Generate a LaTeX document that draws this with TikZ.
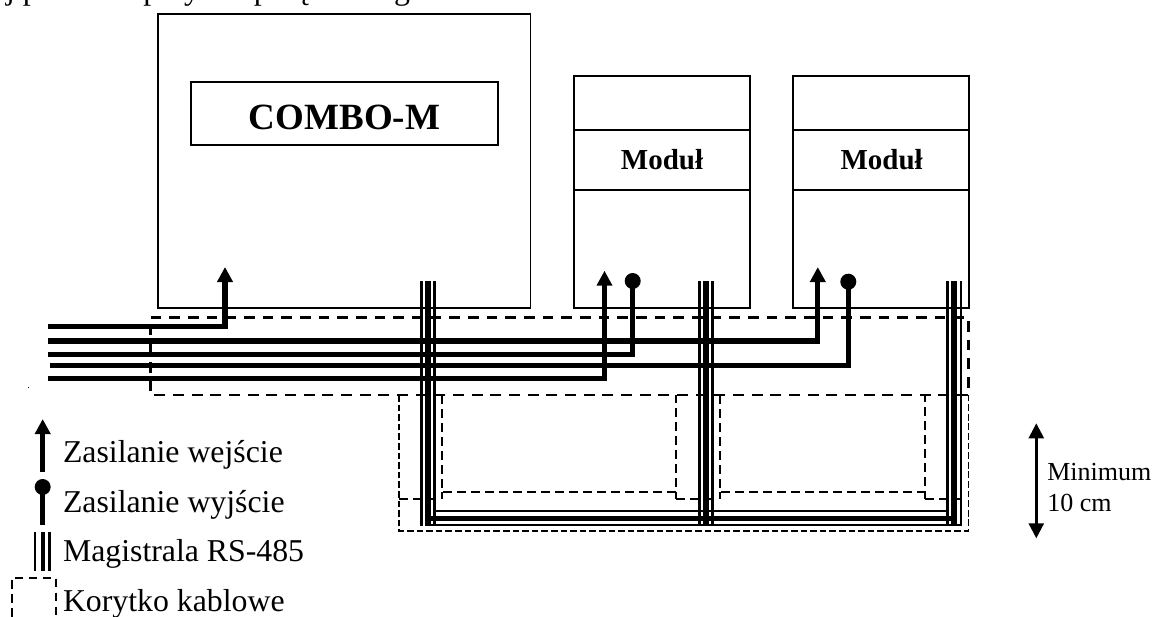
\documentclass[tikz,border=0pt]{standalone}
\usepackage{fontspec}
\setmainfont{Liberation Serif}
\usetikzlibrary{arrows.meta}
\tikzset{
  box/.style={draw=black,line width=1.35pt,inner sep=0pt,outer sep=0pt},
  wire/.style={line width=3.9pt},
  tiparrow/.style={-{Triangle[length=11.25pt,width=11.25pt]}},
  dotend/.style={circle,fill=black,inner sep=0pt,outer sep=0pt,minimum size=12pt},
  busthin/.style={line width=1.9pt},
  busthick/.style={line width=4.2pt},
  traymain/.style={line width=1.9pt,dash pattern=on 8.2pt off 5.8pt},
  trayin/.style={line width=1.4pt,dash pattern=on 6.5pt off 4pt},
  traylow/.style={line width=1.4pt,dash pattern=on 5pt off 2.2pt},
  lbl/.style={inner sep=0pt,outer sep=0pt,anchor=base west},
  lblc/.style={inner sep=0pt,outer sep=0pt,anchor=base},
}
\newcommand{\fsz}[1]{\fontsize{#1}{#1}\selectfont}
\begin{document}
\begin{tikzpicture}[x=.75pt,y=-.75pt]
\useasboundingbox (0,0) rectangle (1153,617);
\begin{scope}
\clip (0,0) rectangle (1153,617);
\node[lbl] (toptext) at (-8,0) {\fsz{23.85}ej ponad te\hspace{3pt} przy\hspace{-6pt} nad połączeń\hspace{-4pt} regulatora.};
% boxes
\node[box,minimum width=372.5*.75pt,minimum height=294*.75pt] (combo) at (344.25,161) {};
\node[box,minimum width=307*.75pt,minimum height=63*.75pt] (comboin) at (344.5,113.5) {};
\node[lblc] (combot) at (344.5,129) {\fsz{27.75}\bfseries COMBO-M};
\node[box,minimum width=175.7*.75pt,minimum height=54*.75pt] (ma1) at (661.85,103) {};
\node[box,minimum width=175.7*.75pt,minimum height=60*.75pt] (mb1) at (661.85,160) {};
\node[box,minimum width=175.7*.75pt,minimum height=118*.75pt] (mc1) at (661.85,249) {};
\node[lblc] (mt1) at (662,169) {\fsz{21.75}\bfseries Moduł};
\node[box,minimum width=175.4*.75pt,minimum height=54*.75pt] (ma2) at (881,103) {};
\node[box,minimum width=175.4*.75pt,minimum height=60*.75pt] (mb2) at (881,160) {};
\node[box,minimum width=175.4*.75pt,minimum height=118*.75pt] (mc2) at (881,249) {};
\node[lblc] (mt2) at (881.7,169) {\fsz{21.75}\bfseries Moduł};
% cable trays
\coordinate (ta) at (150.5,317.5); \coordinate (tb) at (968.5,317.5);
\coordinate (tc) at (968.5,395); \coordinate (td) at (150.5,395);
\draw[traymain] (ta) -- (tb) -- (tc) -- (td) -- cycle;
\coordinate (la) at (399,395); \coordinate (lb) at (399,531); \coordinate (lc) at (968.5,531);
\coordinate (ln) at (399,498.7); \coordinate (lm) at (436,498.7);
\draw[traylow] (la) -- (lb) -- (lc) -- (tc);
\draw[trayin] (ln) -- (lm);
\coordinate (r1a) at (442.3,395); \coordinate (r1b) at (442.3,492);
\coordinate (r1c) at (676.3,492); \coordinate (r1d) at (676.3,395);
\draw[trayin] (r1a) -- (r1b) -- (r1c) -- (r1d);
\coordinate (r1e) at (442.3,499); \draw[trayin] (r1b) -- (r1e);
\coordinate (n1a) at (676.3,498.7); \coordinate (n1b) at (714,498.7);
\draw[trayin] (n1a) -- (n1b);
\coordinate (r2a) at (720,395); \coordinate (r2b) at (720,492);
\coordinate (r2c) at (925,492); \coordinate (r2d) at (925,395);
\draw[trayin] (r2a) -- (r2b) -- (r2c) -- (r2d);
\coordinate (r2e) at (720,499); \draw[trayin] (r2b) -- (r2e);
\coordinate (n2a) at (925,498.7); \coordinate (n2b) at (962,498.7);
\draw[trayin] (n2a) -- (n2b);
\draw[trayin] (r2c) -- (n2a);
\draw[trayin] (r1c) -- (n1a);
% RS-485 buses
\foreach \nm/\xa/\xb/\xc in {b1/421.7/428.2/434.5, b2/699.3/705.7/712.3, b3/947.7/954/961}{
  \coordinate (\nm at) at (\xa,281); \coordinate (\nm ab) at (\xa,526);
  \coordinate (\nm bt) at (\xb,281); \coordinate (\nm bb) at (\xb,526);
  \coordinate (\nm ct) at (\xc,281); \coordinate (\nm cb) at (\xc,526);
  \draw[busthin] (\nm at) -- (\nm ab);
  \draw[busthick] (\nm bt) -- (\nm bb);
  \draw[busthin] (\nm ct) -- (\nm cb);
}
\coordinate (h1a) at (434.5,511); \coordinate (h1b) at (947.7,511);
\coordinate (h2a) at (428.2,518.3); \coordinate (h2b) at (954,518.3);
\coordinate (h3a) at (428.2,525); \coordinate (h3b) at (961,525);
\draw[busthin] (h1a) -- (h1b);
\draw[busthick] (h2a) -- (h2b);
\draw[busthin] (h3a) -- (h3b);
% power wires
\coordinate (w1) at (48,326.7); \coordinate (a1) at (225,267);
\coordinate (w2) at (48,341); \coordinate (a2) at (817.8,267);
\coordinate (w3) at (48,354.3); \node[dotend] (d1) at (632.7,281) {};
\coordinate (w4) at (50,365.3); \node[dotend] (d2) at (848.3,281.7) {};
\coordinate (w5) at (48,378.3); \coordinate (a3) at (604.5,270.7);
\draw[wire,tiparrow] (w1) -| (a1);
\draw[wire,tiparrow] (w2) -| (a2);
\draw[wire] (w3) -| (d1.center);
\draw[wire] (w4) -| (d2.center);
\draw[wire,tiparrow] (w5) -| (a3);
\fill (28,386.6) rectangle (29,387.6);
% legend
\coordinate (k1a) at (42.7,471.7); \coordinate (k1b) at (42.7,419);
\draw[wire,tiparrow] (k1a) -- (k1b);
\node[dotend] (k2d) at (42.7,487) {}; \coordinate (k2a) at (42.7,525);
\draw[wire] (k2a) -- (k2d.center);
\coordinate (k3at) at (35,532); \coordinate (k3ab) at (35,571);
\coordinate (k3bt) at (42.7,532); \coordinate (k3bb) at (42.7,571);
\coordinate (k3ct) at (49.7,532); \coordinate (k3cb) at (49.7,571);
\draw[busthin] (k3at) -- (k3ab);
\draw[line width=3pt] (k3bt) -- (k3bb);
\draw[busthin] (k3ct) -- (k3cb);
\coordinate (k4a) at (12,617); \coordinate (k4b) at (12,577.7);
\coordinate (k4c) at (55.7,577.7); \coordinate (k4d) at (55.7,617);
\draw[trayin] (k4a) -- (k4b) -- (k4c) -- (k4d);
\node[lbl] (l1) at (63,462.7) {\fsz{23.85}Zasilanie wejście};
\node[lbl] (l2) at (63,512.7) {\fsz{23.85}Zasilanie wyjście};
\node[lbl] (l3) at (63,561.7) {\fsz{23.85}Magistrala RS-485};
\node[lbl] (l4) at (63,611.7) {\fsz{23.85}Korytko kablowe};
% minimum
\coordinate (mu) at (1036.3,423.3); \coordinate (md) at (1036.3,538.3);
\draw[line width=1.9pt,{Triangle[length=11.25pt,width=11.25pt]}-{Triangle[length=11.25pt,width=11.25pt]}] (mu) -- (md);
\node[lbl] (m1) at (1047.3,480) {\fsz{19.5}Minimum};
\node[lbl] (m2) at (1047.3,511) {\fsz{19.5}10 cm};
\end{scope}
\end{tikzpicture}
\end{document}
